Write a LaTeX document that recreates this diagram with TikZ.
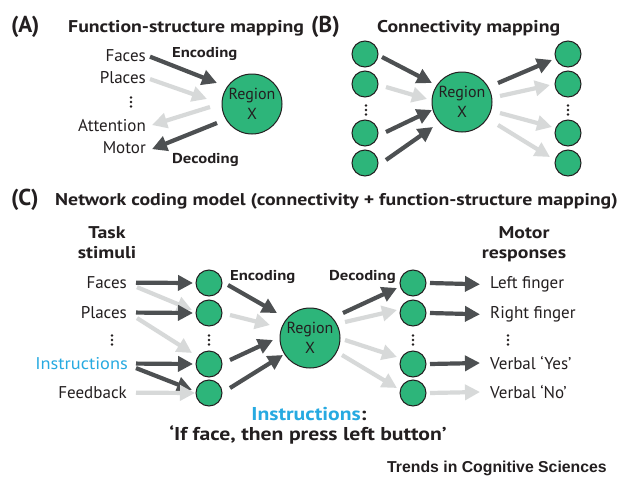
\documentclass[tikz,border=0pt]{standalone}
\usepackage{fontspec}
\setmainfont{PT Sans}
\newfontfamily\hdfont[FakeStretch=1.165]{PT Sans}
\newfontfamily\wdfont[FakeStretch=1.08]{PT Sans}
\newfontfamily\arialfont{Liberation Sans}
\usetikzlibrary{arrows.meta}
\definecolor{grn}{HTML}{2DB57A}
\definecolor{dk}{HTML}{4D5052}
\definecolor{lt}{HTML}{D7D9D9}
\definecolor{blu}{HTML}{27AAE1}
\definecolor{txt}{HTML}{231F20}
\newcommand\vdts[2]{\fill[txt] (#1,#2-4.5) circle (1.3) (#1,#2) circle (1.3) (#1,#2+4.5) circle (1.3);}
\begin{document}
\begin{tikzpicture}[x=1pt,y=-1pt,
 lbl/.style={font=\fontsize{17}{20}\selectfont, text=txt, inner sep=0},
 hd/.style={font=\hdfont\bfseries\fontsize{17}{20}\selectfont, text=txt, inner sep=0},
 big/.style={font=\hdfont\bfseries\fontsize{18.6}{22}\selectfont, text=txt, inner sep=0},
 enc/.style={font=\hdfont\bfseries\fontsize{14.3}{17}\selectfont, text=txt, inner sep=0},
 pl/.style={font=\bfseries\fontsize{23}{26}\selectfont, text=txt, inner sep=0},
 reg/.style={circle, draw=txt, line width=1, fill=grn, minimum size=60, inner sep=0, align=center, font=\fontsize{16}{20}\selectfont, text=txt},
 unit/.style={circle, draw=txt, line width=1, fill=grn, minimum size=26, inner sep=0},
 dka/.style={draw=dk, line width=4.2, -{Triangle[length=15pt,width=15pt]}},
 lta/.style={draw=lt, line width=4.2, -{Triangle[length=15pt,width=15pt]}},
]
\useasboundingbox (0,0) rectangle (619,477);
\fill[white] (0,0) rectangle (619,477);

% ---------- Panel A ----------
\node[pl, anchor=base west] (pA) at (11,32) {(A)};
\node[hd, anchor=base west] (tA) at (68,32) {Function-structure mapping};
\node[reg] (rA) at (252,104) {Region\\X};
\node[lbl, anchor=base east] (aFaces) at (146,61) {Faces};
\node[lbl, anchor=base east] (aPlaces) at (146,83) {Places};
\node[lbl, anchor=base east] (aAtt) at (146,131) {Attention};
\node[lbl, anchor=base east] (aMot) at (146,153) {Motor};
\node[enc, anchor=base west] (aEnc) at (172,57) {Encoding};
\node[enc, anchor=base west] (aDec) at (172,163) {Decoding};
\vdts{131}{102}
\draw[dka] ([shift={(4,1.5)}]aFaces.east) -- ([shift={(-35,-21)}]rA.center);
\draw[lta] ([shift={(4,2)}]aPlaces.east) -- ([shift={(-45,-5)}]rA.center);
\draw[lta] ([shift={(-42,3)}]rA.center) -- ([shift={(6,0)}]aAtt.east);
\draw[dka] ([shift={(-35,19)}]rA.center) -- ([shift={(6,2)}]aMot.east);

% ---------- Panel B ----------
\node[pl, anchor=base west] (pB) at (311,32) {(B)};
\node[hd, anchor=base west] (tB) at (377,32) {Connectivity mapping};
\node[reg] (rB) at (462,102) {Region\\X};
\node[unit] (bL1) at (365,54) {};
\node[unit] (bL2) at (365,84) {};
\node[unit] (bL3) at (365,133) {};
\node[unit] (bL4) at (365,163) {};
\node[unit] (bR1) at (568,54) {};
\node[unit] (bR2) at (568,84) {};
\node[unit] (bR3) at (568,133) {};
\node[unit] (bR4) at (568,163) {};
\vdts{366}{110}
\vdts{568}{110}
\draw[dka] ([shift={(17,3)}]bL1.center) -- ([shift={(-30,-19)}]rB.center);
\draw[lta] ([shift={(21,3)}]bL2.center) -- ([shift={(-35,-3)}]rB.center);
\draw[dka] ([shift={(21,-1)}]bL3.center) -- ([shift={(-30,8)}]rB.center);
\draw[dka] ([shift={(21,-3)}]bL4.center) -- ([shift={(-29,25)}]rB.center);
\draw[dka] ([shift={(36,-19)}]rB.center) -- ([shift={(-16,6)}]bR1.center);
\draw[lta] ([shift={(38,-6)}]rB.center) -- ([shift={(-18,1)}]bR2.center);
\draw[lta] ([shift={(38,11)}]rB.center) -- ([shift={(-16,-6)}]bR3.center);
\draw[lta] ([shift={(36,23)}]rB.center) -- ([shift={(-18,-6)}]bR4.center);

% ---------- Panel C ----------
\node[pl, anchor=base west] (pC) at (11,205) {(C)};
\node[hd, anchor=base west] (tC) at (55,205) {Network coding model (connectivity + function-structure mapping)};
\node[hd, anchor=base] (task) at (107,238) {Task};
\node[hd, anchor=base] (stim) at (107,258) {stimuli};
\node[hd, anchor=base] (mot) at (524,238) {Motor};
\node[hd, anchor=base] (resp) at (524,258) {responses};

\node[lbl, anchor=base east] (cFaces) at (127,288) {Faces};
\node[lbl, anchor=base east] (cPlaces) at (127,318) {Places};
\node[lbl, anchor=base east, font=\wdfont\fontsize{17}{20}\selectfont, text=blu] (cInstr) at (128,369) {Instructions};
\node[lbl, anchor=base east] (cFeed) at (127,398) {Feedback};
\vdts{112}{340}

\node[unit] (cL1) at (209,283) {};
\node[unit] (cL2) at (209,313) {};
\node[unit] (cL3) at (209,364) {};
\node[unit] (cL4) at (209,393) {};
\vdts{209}{340}
\node[reg] (rC) at (310,338) {Region\\X};
\node[unit] (cR1) at (413,283) {};
\node[unit] (cR2) at (413,313) {};
\node[unit] (cR3) at (413,364) {};
\node[unit] (cR4) at (413,393) {};
\vdts{413}{340}

\node[lbl, anchor=base west] (oL) at (490,288) {Left finger};
\node[lbl, anchor=base west] (oR) at (490,318) {Right finger};
\node[lbl, anchor=base west] (oY) at (490,369) {Verbal ‘Yes’};
\node[lbl, anchor=base west] (oN) at (490,398) {Verbal ‘No’};
\vdts{508}{340}

\node[enc, anchor=base west] (cEnc) at (230,280) {Encoding};
\node[enc, anchor=base west] (cDec) at (329,280) {Decoding};

% stimuli -> input units
\draw[dka] ([shift={(9,0.5)}]cFaces.east) -- ([shift={(-16,0)}]cL1.center);
\draw[lta] ([shift={(10,5)}]cFaces.east) -- ([shift={(-17,-3)}]cL2.center);
\draw[dka] ([shift={(9,0.5)}]cPlaces.east) -- ([shift={(-16,0)}]cL2.center);
\draw[lta] ([shift={(10,6)}]cPlaces.east) -- ([shift={(-17,-11)}]cL3.center);
\draw[dka] ([shift={(8,0.5)}]cInstr.east) -- ([shift={(-16,0)}]cL3.center);
\draw[dka] ([shift={(8,5)}]cInstr.east) -- ([shift={(-17,-3)}]cL4.center);
\draw[lta] ([shift={(9,0.5)}]cFeed.east) -- ([shift={(-14,0)}]cL4.center);
% input units -> region
\draw[dka] ([shift={(19,2)}]cL1.center) -- ([shift={(-33,-25)}]rC.center);
\draw[lta] ([shift={(21,2)}]cL2.center) -- ([shift={(-40,-13)}]rC.center);
\draw[dka] ([shift={(21,-4)}]cL3.center) -- ([shift={(-37,2)}]rC.center);
\draw[dka] ([shift={(21,-5)}]cL4.center) -- ([shift={(-27,17)}]rC.center);
% region -> output units
\draw[dka] ([shift={(33,-25)}]rC.center) -- ([shift={(-16,5)}]cR1.center);
\draw[lta] ([shift={(35,-16)}]rC.center) -- ([shift={(-16,-3)}]cR2.center);
\draw[lta] ([shift={(35,2)}]rC.center) -- ([shift={(-16,-7)}]cR3.center);
\draw[lta] ([shift={(32,17)}]rC.center) -- ([shift={(-16,-5)}]cR4.center);
% output units -> responses
\draw[dka] ([shift={(17,0)}]cR1.center) -- ([shift={(-10,0.5)}]oL.west);
\draw[dka] ([shift={(17,0)}]cR2.center) -- ([shift={(-10,0.5)}]oR.west);
\draw[dka] ([shift={(17,0)}]cR3.center) -- ([shift={(-10,0.5)}]oY.west);
\draw[lta] ([shift={(17,0)}]cR4.center) -- ([shift={(-10,0.5)}]oN.west);

\node[big, anchor=base] (instr) at (309,420) {\textcolor{blu}{Instructions}:};
\node[big, anchor=base] (rule) at (308,440) {‘If face, then press left button’};
\node[anchor=base west, inner sep=0, text=txt, font=\arialfont\bfseries\fontsize{15.8}{18}\selectfont] (src) at (387,472) {Trends in Cognitive Sciences};
\end{tikzpicture}
\end{document}
